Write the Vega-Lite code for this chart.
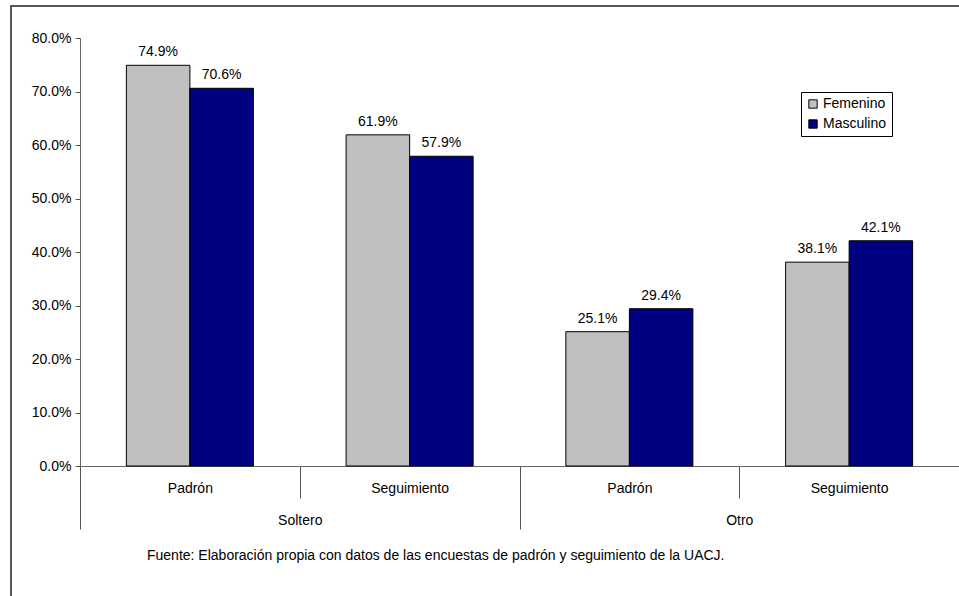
{
  "$schema": "https://vega.github.io/schema/vega-lite/v6.json",
  "autosize": {"type": "none"},
  "width": 968,
  "height": 610,
  "padding": {"left": 11, "top": 6, "right": -20, "bottom": -20},
  "background": "white",
  "config": {
    "view": {"stroke": "#222222", "strokeWidth": 1.5},
    "font": "Liberation Sans",
    "axis": {"labelFont": "Liberation Sans", "labelColor": "#000000", "labelFontSize": 14, "domainColor": "#666666", "tickColor": "#555555", "grid": false, "title": null}
  },
  "title": {
    "text": "Fuente: Elaboración propia con datos de las encuestas de padrón y seguimiento de la UACJ.",
    "orient": "bottom",
    "anchor": "start",
    "frame": "group",
    "offset": 0,
    "dx": 136,
    "dy": -67,
    "font": "Liberation Sans",
    "fontSize": 14,
    "fontWeight": "normal",
    "color": "#000000"
  },
  "data": {
    "values": [
      {"grupo": "Soltero", "cat": "Soltero|Padrón", "genero": "Femenino", "valor": 0.749},
      {"grupo": "Soltero", "cat": "Soltero|Padrón", "genero": "Masculino", "valor": 0.706},
      {"grupo": "Soltero", "cat": "Soltero|Seguimiento", "genero": "Femenino", "valor": 0.619},
      {"grupo": "Soltero", "cat": "Soltero|Seguimiento", "genero": "Masculino", "valor": 0.579},
      {"grupo": "Otro", "cat": "Otro|Padrón", "genero": "Femenino", "valor": 0.251},
      {"grupo": "Otro", "cat": "Otro|Padrón", "genero": "Masculino", "valor": 0.294},
      {"grupo": "Otro", "cat": "Otro|Seguimiento", "genero": "Femenino", "valor": 0.381},
      {"grupo": "Otro", "cat": "Otro|Seguimiento", "genero": "Masculino", "valor": 0.421}
    ]
  },
  "encoding": {
    "y": {
      "field": "valor",
      "type": "quantitative",
      "scale": {"domain": [0, 0.8], "range": [460, 32], "nice": false, "zero": true},
      "axis": {
        "orient": "left",
        "offset": -69,
        "values": [0, 0.1, 0.2, 0.3, 0.4, 0.5, 0.6, 0.7, 0.8],
        "format": ".1%",
        "tickSize": 5,
        "labelPadding": 4,
        "labelFontSize": 14
      }
    }
  },
  "layer": [
    {
      "encoding": {
        "x": {
          "field": "cat",
          "type": "nominal",
          "sort": ["Soltero|Padrón", "Soltero|Seguimiento", "Otro|Padrón", "Otro|Seguimiento"],
          "scale": {"range": [69, 948], "paddingInner": 0, "paddingOuter": 0},
          "axis": {
            "orient": "bottom",
            "offset": -150,
            "tickBand": "extent",
            "tickSize": 32,
            "labelPadding": -17,
            "labelAngle": 0,
            "labelExpr": "split(datum.label, '|')[1]"
          }
        },
        "xOffset": {
          "field": "genero",
          "type": "nominal",
          "sort": ["Femenino", "Masculino"],
          "scale": {"paddingInner": 0, "paddingOuter": 0.73}
        }
      },
      "layer": [
        {
          "mark": {"type": "bar", "stroke": "#000000", "strokeWidth": 1},
          "encoding": {
            "color": {
              "field": "genero",
              "type": "nominal",
              "scale": {"domain": ["Femenino", "Masculino"], "range": ["#C0C0C0", "#000080"]},
              "legend": {
                "orient": "none",
                "legendX": 790,
                "legendY": 86,
                "title": null,
                "strokeColor": "#000000",
                "fillColor": "#ffffff",
                "padding": 5,
                "symbolType": "square",
                "symbolSize": 70,
                "symbolStrokeColor": "#000000",
                "symbolStrokeWidth": 1,
                "labelFont": "Liberation Sans",
                "labelFontSize": 14,
                "labelColor": "#000000",
                "labelOffset": 3,
                "rowPadding": 6
              }
            }
          }
        },
        {
          "mark": {"type": "text", "dy": -9, "baseline": "alphabetic", "fontSize": 14, "font": "Liberation Sans", "color": "#000000"},
          "encoding": {
            "text": {"field": "valor", "type": "quantitative", "format": ".1%"}
          }
        }
      ]
    },
    {
      "mark": {"type": "point", "opacity": 0},
      "encoding": {
        "x": {
          "field": "grupo",
          "type": "nominal",
          "sort": ["Soltero", "Otro"],
          "scale": {"range": [69, 948], "paddingInner": 0, "paddingOuter": 0},
          "axis": {
            "orient": "bottom",
            "offset": -150,
            "tickBand": "extent",
            "tickSize": 63,
            "domain": false,
            "labelPadding": -16,
            "labelAngle": 0
          }
        }
      }
    }
  ],
  "resolve": {"scale": {"x": "independent"}, "axis": {"x": "independent"}}
}
